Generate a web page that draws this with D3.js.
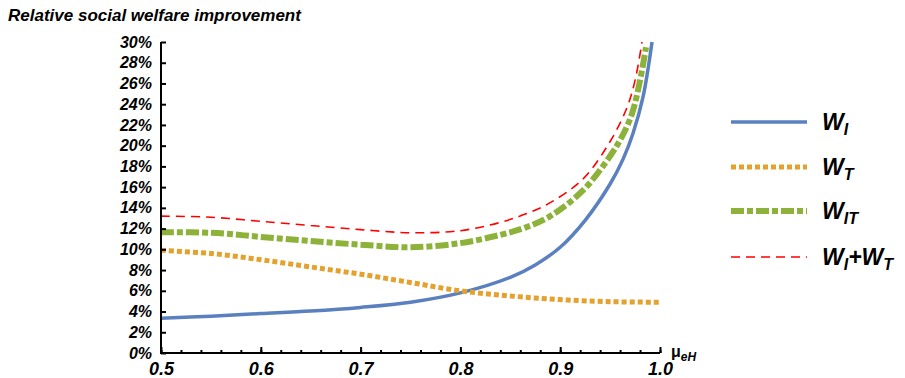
<!DOCTYPE html>
<html>
<head>
<meta charset="utf-8">
<script src="https://cdnjs.cloudflare.com/ajax/libs/d3/7.8.5/d3.min.js"></script>
<style>
  body { margin: 0; background: #fff; }
  text { font-family: "Liberation Sans", Arial, sans-serif; font-weight: bold; font-style: italic; }
</style>
</head>
<body>
<div id="chart"></div>
<script>
// values (mu_eH, percent)
var wiX  = [0.50, 0.55, 0.60, 0.65, 0.70, 0.75, 0.80, 0.85, 0.875, 0.90, 0.925, 0.95, 0.963, 0.973, 0.983, 0.992];
var wiY  = [3.35, 3.55, 3.8, 4.05, 4.4, 4.9, 5.8, 7.3, 8.5, 10.2, 12.8, 16.3, 18.7, 21.2, 24.7, 30.0];

var wtX  = [0.50, 0.55, 0.60, 0.65, 0.70, 0.75, 0.80, 0.85, 0.90, 0.95, 1.00];
var wtY  = [9.9, 9.6, 9.0, 8.3, 7.6, 6.8, 6.0, 5.5, 5.15, 4.95, 4.9];

var witX = [0.50, 0.55, 0.60, 0.65, 0.70, 0.75, 0.80, 0.84, 0.865, 0.89, 0.923, 0.95, 0.962, 0.972, 0.98, 0.986];
var witY = [11.65, 11.6, 11.2, 10.8, 10.45, 10.2, 10.6, 11.4, 12.1, 13.2, 15.7, 19.0, 20.9, 23.1, 26.3, 29.5];

var sumX = [0.50, 0.55, 0.60, 0.65, 0.70, 0.75, 0.80, 0.84, 0.865, 0.89, 0.923, 0.95, 0.967, 0.975, 0.982];
var sumY = [13.2, 13.1, 12.7, 12.3, 11.9, 11.6, 11.8, 12.6, 13.4, 14.5, 16.8, 20.4, 23.7, 26.3, 30.0];

var xTicks = [0.5, 0.6, 0.7, 0.8, 0.9, 1.0];
var yTicks = d3.range(0, 31, 2);

var series = [
  {name: "WI",  xs: wiX,  ys: wiY,  color: "#5a80bf", width: 3.5, dash: null},
  {name: "WT",  xs: wtX,  ys: wtY,  color: "#e4a12d", width: 5,   dash: "5,3"},
  {name: "WIT", xs: witX, ys: witY, color: "#8cb23a", width: 6,   dash: "13,3,6,3"},
  {name: "WI+WT", xs: sumX, ys: sumY, color: "#ff0000", width: 1.6, dash: "9,6"}
];

var svg = d3.select("#chart").append("svg")
    .attr("width", 905)
    .attr("height", 378);

var x = d3.scaleLinear().domain([0.5, 1.0]).range([161, 660]);
var y = d3.scaleLinear().domain([0, 30]).range([353, 42]);

// title
svg.append("text")
    .attr("x", 8).attr("y", 21)
    .style("font-size", "17px")
    .text("Relative social welfare improvement");

// curves
var line = d3.line()
    .x(function(d) { return x(d[0]); })
    .y(function(d) { return y(d[1]); })
    .curve(d3.curveCatmullRom.alpha(0.5));

series.forEach(function(s) {
  var pts = s.xs.map(function(v, i) { return [v, s.ys[i]]; });
  svg.append("path")
      .attr("d", line(pts))
      .attr("fill", "none")
      .attr("stroke", s.color)
      .attr("stroke-width", s.width)
      .attr("stroke-dasharray", s.dash);
});

// y axis
var yAxis = svg.append("g")
    .attr("transform", "translate(161,0)")
    .call(d3.axisLeft(y).tickValues(yTicks).tickSize(-5).tickPadding(9)
      .tickFormat(function(d) { return d + "%"; }));
yAxis.select(".domain").attr("stroke-width", 2).attr("d", "M0,42V353");
yAxis.selectAll(".tick line").attr("stroke-width", 2);
yAxis.selectAll(".tick text").style("font-size", "16px").attr("fill", "#000");

// x axis, minor ticks first
var xMinor = svg.append("g")
    .attr("transform", "translate(0,353)")
    .call(d3.axisBottom(x).tickValues(d3.range(0.5, 1.001, 0.02)).tickSize(-3).tickFormat(""));
xMinor.select(".domain").remove();
xMinor.selectAll(".tick line").attr("stroke-width", 2);

var xAxis = svg.append("g")
    .attr("transform", "translate(0,353)")
    .call(d3.axisBottom(x).tickValues(xTicks).tickSize(-6).tickPadding(9)
      .tickFormat(d3.format(".1f")));
xAxis.select(".domain").attr("stroke-width", 2).attr("d", "M160,0H660");
xAxis.selectAll(".tick line").attr("stroke-width", 2);
xAxis.selectAll(".tick text").style("font-size", "18px").attr("fill", "#000");

// x axis label
var xl = svg.append("text")
    .attr("x", 671).attr("y", 357)
    .style("font-size", "16px")
    .style("font-style", "normal");
xl.append("tspan").text("μ");
xl.append("tspan").attr("dy", 4).style("font-size", "12px").style("font-style", "italic").text("eH");

// legend
var legY = [122, 167, 211, 257];
var legLabels = [
  [["W", ""], ["I", "sub"]],
  [["W", ""], ["T", "sub"]],
  [["W", ""], ["IT", "sub"]],
  [["W", ""], ["I", "sub"], ["+", ""], ["W", ""], ["T", "sub"]]
];

series.forEach(function(s, i) {
  var g = svg.append("g").attr("transform", "translate(0," + legY[i] + ")");
  g.append("line")
      .attr("x1", 731).attr("x2", 807)
      .attr("stroke", s.color)
      .attr("stroke-width", s.width)
      .attr("stroke-dasharray", s.dash);
  var t = g.append("text")
      .attr("x", 822).attr("y", 8)
      .style("font-size", "23px");
  var sub = false;
  legLabels[i].forEach(function(p) {
    var ts = t.append("tspan").text(p[0]);
    if (p[1] === "sub") {
      ts.attr("dy", sub ? 0 : 5).style("font-size", "16px");
      sub = true;
    } else {
      ts.attr("dy", sub ? -5 : 0);
      sub = false;
    }
  });
});
</script>
</body>
</html>
